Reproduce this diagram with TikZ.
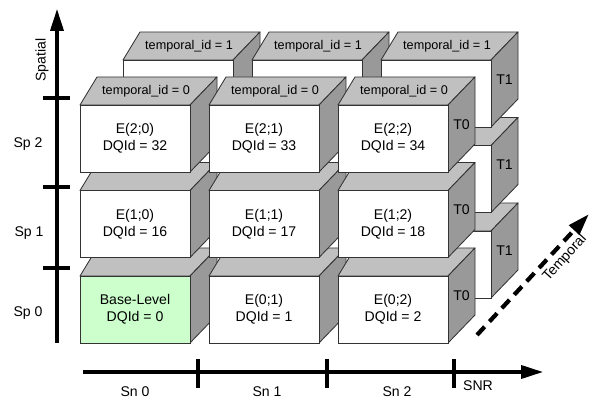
\documentclass[tikz,border=0pt]{standalone}
\usepackage{fontspec}
\setmainfont{Liberation Sans}
\usepackage{tikz}
\usetikzlibrary{arrows.meta}
\definecolor{topgray}{RGB}{192,192,192}
\definecolor{sidegray}{RGB}{153,153,153}
\definecolor{basegreen}{RGB}{204,255,204}

\tikzset{
  topface/.style={fill=topgray, draw=black!80, line width=0.6pt, line join=round},
  sideface/.style={fill=sidegray, draw=black!80, line width=0.6pt, line join=round},
  frontface/.style={draw=black!80, line width=0.6pt, anchor=north west, minimum width=2.75cm, minimum height=1.675cm, inner sep=0pt, outer sep=0pt, align=center, font=\fontsize{10}{12}\selectfont},
  toplabel/.style={font=\fontsize{9}{11}\selectfont, inner sep=0pt},
  sidelabel/.style={font=\fontsize{10}{12}\selectfont, inner sep=0pt},
  axis/.style={line width=2.2pt, -{Triangle[length=5.5mm,width=3.3mm]}},
  axistick/.style={line width=2.2pt},
  axislabel/.style={font=\fontsize{10}{12}\selectfont, inner sep=0pt}
}

% one layer box: name, x, y (top left of front face), fill, text, top text, side text
\newcommand{\dqbox}[7]{%
  \filldraw[topface] (#2,#3) -- ++(17,-28) -- ++(120,0) -- ++(-27,28) -- cycle;
  \filldraw[sideface] ([shift={(110,0)}]#2,#3) -- ++(27,-28) -- ++(0,67) -- ++(-27,28) -- cycle;
  \node[frontface, fill=#4] (#1) at (#2,#3) {#5};
  \node[toplabel] (#1-top) at ([shift={(11,-14)}]#1.north) {#6};
  \node[sidelabel] (#1-side) at ([shift={(13.5,-14)}]#1.east) {#7};
}

\begin{document}
\begin{tikzpicture}[x=0.025cm, y=-0.025cm]
\useasboundingbox (0,0) rectangle (590,398);

% Back layer (temporal_id = 1)
\dqbox{b00}{123}{231}{white}{}{}{}
\dqbox{b01}{252}{231}{white}{}{}{}
\dqbox{b02}{381}{231}{white}{}{}{T1}
\dqbox{b10}{123}{145.5}{white}{}{}{}
\dqbox{b11}{252}{145.5}{white}{}{}{}
\dqbox{b12}{381}{145.5}{white}{}{}{T1}
\dqbox{b20}{123}{60}{white}{}{temporal\_id = 1}{}
\dqbox{b21}{252}{60}{white}{}{temporal\_id = 1}{}
\dqbox{b22}{381}{60}{white}{}{temporal\_id = 1}{T1}

% Front layer (temporal_id = 0)
\dqbox{f00}{80}{276}{basegreen}{Base-Level\\DQId = 0}{}{}
\dqbox{f01}{209}{276}{white}{E(0;1)\\DQId = 1}{}{}
\dqbox{f02}{338}{276}{white}{E(0;2)\\DQId = 2}{}{T0}
\dqbox{f10}{80}{190.5}{white}{E(1;0)\\DQId = 16}{}{}
\dqbox{f11}{209}{190.5}{white}{E(1;1)\\DQId = 17}{}{}
\dqbox{f12}{338}{190.5}{white}{E(1;2)\\DQId = 18}{}{T0}
\dqbox{f20}{80}{105}{white}{E(2;0)\\DQId = 32}{temporal\_id = 0}{}
\dqbox{f21}{209}{105}{white}{E(2;1)\\DQId = 33}{temporal\_id = 0}{}
\dqbox{f22}{338}{105}{white}{E(2;2)\\DQId = 34}{temporal\_id = 0}{T0}

% Spatial axis
\coordinate (sp-base) at (57,343);
\coordinate (sp-tip) at (57,9);
\draw[axis] (sp-base) -- (sp-tip);
\draw[axistick] (43,98) -- (70,98);
\draw[axistick] (43,187) -- (70,187);
\draw[axistick] (43,268) -- (70,268);
\node[axislabel, rotate=90] (spatial) at (42,60) {Spatial};
\node[axislabel] (sp2) at (28,144) {Sp 2};
\node[axislabel] (sp1) at (29,233) {Sp 1};
\node[axislabel] (sp0) at (28,313) {Sp 0};

% SNR axis
\coordinate (snr-base) at (83,372);
\coordinate (snr-tip) at (543,372);
\draw[axis] (snr-base) -- (snr-tip);
\draw[axistick] (198,359) -- (198,388);
\draw[axistick] (327,359) -- (327,388);
\draw[axistick] (454,359) -- (454,388);
\node[axislabel] (sn0) at (135,392) {Sn 0};
\node[axislabel] (sn1) at (267,392) {Sn 1};
\node[axislabel] (sn2) at (397,392) {Sn 2};
\node[axislabel] (snr) at (478,386) {SNR};

% Temporal axis
\coordinate (tmp-base) at (477,335);
\coordinate (tmp-tip) at (589,214);
\draw[axis, line width=3pt, dash pattern=on 8pt off 5pt] (tmp-base) -- (tmp-tip);
\node[axislabel, rotate=48] (temporal) at (565,258) {Temporal};
\end{tikzpicture}
\end{document}
